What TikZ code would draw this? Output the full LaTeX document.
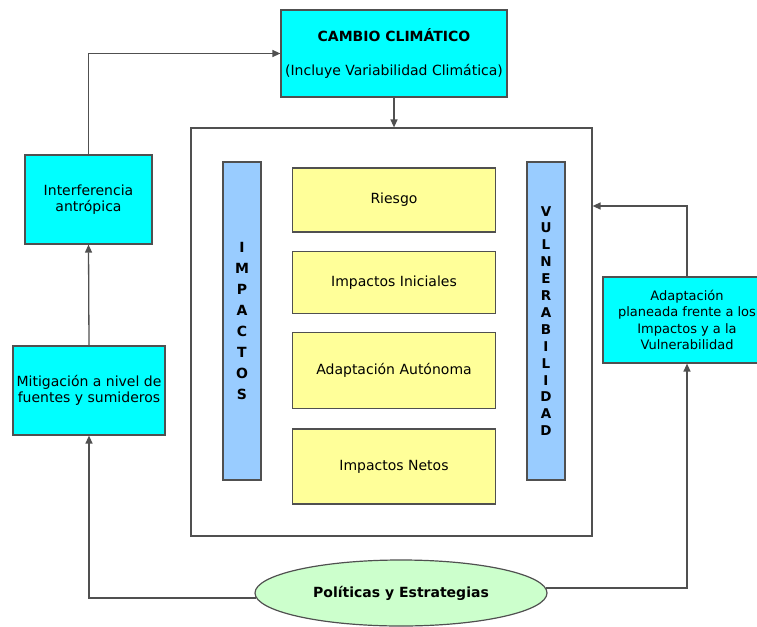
\documentclass[tikz,border=0pt]{standalone}
\usepackage{fontspec}
\setmainfont{DejaVu Sans}
\usepackage{tikz}
\usetikzlibrary{arrows.meta,shapes.geometric}

\definecolor{cian}{RGB}{0,255,255}
\definecolor{barra}{RGB}{153,204,255}
\definecolor{amarillo}{RGB}{255,255,153}
\definecolor{verde}{RGB}{204,255,204}
\definecolor{borde}{RGB}{80,80,80}

\begin{document}
\begin{tikzpicture}[x=1pt, y=-1pt,
    every node/.style={font=\fontsize{14}{16.5}\selectfont},
    caja/.style={draw=borde, line width=1.2pt, fill=cian, align=center, inner sep=0pt},
    bloque/.style={draw=borde, line width=1.2pt, fill=amarillo, align=center,
        minimum width=203pt, inner sep=0pt},
    columna/.style={draw=borde, line width=1.2pt, fill=barra, align=center,
        minimum width=38pt, minimum height=318pt, inner sep=0pt},
    flecha/.style={draw=borde, line width=1.3pt, -{Triangle[length=8pt,width=7pt]}}]
    \useasboundingbox (0,0) rectangle (757,626);
    \clip (0,0) rectangle (757,626);

    % Cambio climatico arriba
    \node[caja, minimum width=226pt, minimum height=87pt] (cambio) at (394,53.5)
        {\textbf{CAMBIO CLIMÁTICO}\\[18pt](Incluye Variabilidad Climática)};

    % Marco central con impactos y vulnerabilidad
    \node[draw=borde, line width=1.2pt, minimum width=401pt, minimum height=408pt] (marco) at (391.5,332) {};
    \node[columna, font=\bfseries\fontsize{14}{20.9}\selectfont] (impactos) at (242,321)
        {I\\M\\P\\A\\C\\T\\O\\S};
    \node[columna, font=\bfseries\fontsize{13.5}{16.9}\selectfont] (vulner) at (546,321)
        {V\\U\\L\\N\\E\\R\\A\\B\\I\\L\\I\\D\\A\\D};

    % Bloques amarillos
    \node[bloque, minimum height=64pt] (riesgo) at (394,200) {Riesgo};
    \node[bloque, minimum height=62pt] (iniciales) at (394,282.5) {Impactos Iniciales};
    \node[bloque, minimum height=76pt] (autonoma) at (394,370.5) {Adaptación Autónoma};
    \node[bloque, minimum height=75pt] (netos) at (394,466.5) {Impactos Netos};

    % Cajas laterales
    \node[caja, minimum width=127pt, minimum height=89pt] (interf) at (88.5,199.5)
        {Interferencia\\antrópica};
    \node[caja, minimum width=152pt, minimum height=89pt] (mitig) at (89,390.5)
        {Mitigación a nivel de\\fuentes y sumideros};
    \node[caja, minimum width=168pt, minimum height=86pt,
        font=\fontsize{13}{16.5}\selectfont] (adapt) at (687,320)
        {Adaptación\\planeada frente a los\\Impactos y a la\\Vulnerabilidad};

    % Politicas abajo
    \node[ellipse, draw=borde, line width=1.2pt, fill=verde, minimum width=292pt,
        minimum height=66pt, font=\bfseries\fontsize{14}{16}\selectfont] (pol) at (401,593)
        {Políticas y Estrategias};

    % Conectores
    \coordinate (entrada) at (marco.east |- 0,206);
    \draw[flecha] (cambio.south) -- (cambio.south |- marco.north);
    \draw[flecha] (mitig.north) -- (interf.south);
    \draw[flecha] (interf.north) |- (cambio.west);
    \draw[flecha] (adapt.north) |- (entrada);
    \draw[flecha] (pol.182) -| (mitig.south);
    \draw[flecha] (pol.2) -| (adapt.south);
\end{tikzpicture}
\end{document}
